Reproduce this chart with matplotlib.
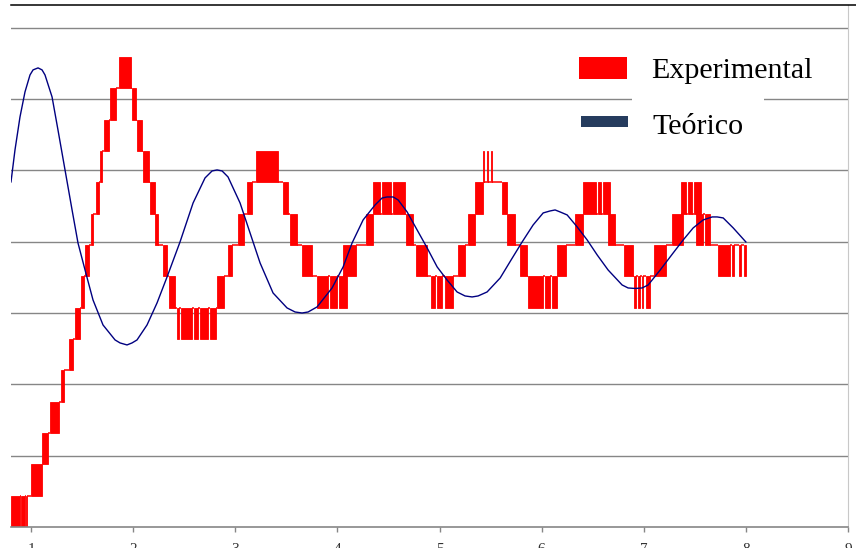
import matplotlib
matplotlib.use("Agg")
import matplotlib.pyplot as plt
from matplotlib.patches import Rectangle
from matplotlib.lines import Line2D

# teorico: curva amortecida (tempo, posicao em divisoes da grade)
theo_t = [0.804, 0.843, 0.892, 0.941, 0.990, 1.020, 1.069, 1.108, 1.137, 1.206,
          1.264, 1.333, 1.402, 1.460, 1.529, 1.607, 1.705, 1.823, 1.872, 1.940,
          1.989, 2.038, 2.136, 2.234, 2.332, 2.459, 2.587, 2.704, 2.773, 2.822,
          2.871, 2.929, 3.047, 3.145, 3.243, 3.370, 3.507, 3.586, 3.654, 3.713,
          3.801, 3.948, 4.056, 4.144, 4.252, 4.369, 4.438, 4.487, 4.546, 4.595,
          4.683, 4.781, 4.879, 4.977, 5.074, 5.172, 5.250, 5.319, 5.378, 5.466,
          5.594, 5.701, 5.809, 5.917, 6.015, 6.083, 6.132, 6.181, 6.250, 6.348,
          6.446, 6.544, 6.651, 6.788, 6.847, 6.916, 6.984, 7.043, 7.161, 7.288,
          7.386, 7.484, 7.582, 7.670, 7.719, 7.778, 7.876, 8.000]
theo_y = [4.839, 5.287, 5.750, 6.101, 6.339, 6.410, 6.438, 6.410, 6.339, 6.031,
          5.568, 5.007, 4.446, 3.983, 3.604, 3.184, 2.833, 2.623, 2.581, 2.553,
          2.581, 2.623, 2.833, 3.142, 3.506, 3.997, 4.544, 4.895, 4.993, 5.007,
          4.993, 4.909, 4.544, 4.123, 3.703, 3.282, 3.072, 3.015, 3.001, 3.015,
          3.086, 3.352, 3.647, 3.983, 4.306, 4.516, 4.614, 4.628, 4.628, 4.586,
          4.418, 4.165, 3.913, 3.647, 3.464, 3.296, 3.240, 3.226, 3.240, 3.296,
          3.492, 3.745, 3.997, 4.236, 4.404, 4.432, 4.446, 4.418, 4.376, 4.208,
          4.025, 3.815, 3.604, 3.394, 3.352, 3.345, 3.352, 3.394, 3.604, 3.843,
          4.025, 4.194, 4.306, 4.348, 4.348, 4.334, 4.194, 3.997]

# experimental: sinal quantizado, faixas onde oscila entre nivel e nivel+1
exp_t0 = [0.804, 0.902, 0.951, 1.000, 1.108, 1.186, 1.294, 1.372, 1.431, 1.490,
          1.529, 1.588, 1.637, 1.676, 1.715, 1.774, 1.862,
          1.989, 2.038, 2.097, 2.166, 2.214, 2.293, 2.352,
          2.430, 2.469, 2.596, 2.655, 2.753,
          2.822, 2.929, 3.027, 3.116, 3.204,
          3.468, 3.537, 3.654, 3.801, 3.928, 4.017, 4.056,
          4.281, 4.350, 4.438, 4.546,
          4.673, 4.771, 4.918, 4.977, 5.055,
          5.182, 5.280, 5.349, 5.427, 5.466, 5.505,
          5.613, 5.662, 5.789, 5.868, 6.034, 6.103,
          6.152, 6.328, 6.406, 6.553, 6.602,
          6.651, 6.808, 6.906, 6.945, 6.984, 7.023,
          7.102, 7.278, 7.366, 7.435, 7.493, 7.513, 7.601,
          7.729, 7.866, 7.934, 7.983]
exp_t1 = [0.892, 0.941, 0.961, 1.108, 1.167, 1.274, 1.323, 1.411, 1.480, 1.519,
          1.568, 1.607, 1.666, 1.695, 1.764, 1.833, 1.979,
          2.028, 2.087, 2.156, 2.214, 2.244, 2.332, 2.410,
          2.450, 2.577, 2.636, 2.734, 2.812,
          2.890, 2.969, 3.086, 3.165, 3.419,
          3.517, 3.605, 3.752, 3.909, 3.997, 4.095, 4.183,
          4.350, 4.418, 4.526, 4.663,
          4.741, 4.879, 4.957, 5.025, 5.133,
          5.250, 5.349, 5.427, 5.437, 5.476, 5.515,
          5.662, 5.740, 5.858, 6.015, 6.083, 6.152,
          6.240, 6.406, 6.534, 6.583, 6.671,
          6.720, 6.896, 6.925, 6.964, 6.994, 7.062,
          7.219, 7.386, 7.415, 7.474, 7.562, 7.582, 7.650,
          7.846, 7.885, 7.954, 8.003]
exp_level = [0, 0, 0, 1, 2, 3, 4, 5, 6, 7,
             8, 9, 10, 11, 12, 13, 14,
             13, 12, 11, 10, 9, 8, 7,
             6, 6, 6, 6, 6,
             7, 8, 9, 10, 11,
             10, 9, 8, 7, 7, 7, 8,
             9, 10, 10, 10,
             9, 8, 7, 7, 7,
             8, 9, 10, 11, 11, 11,
             10, 9, 8, 7, 7, 7,
             8, 9, 10, 10, 10,
             9, 8, 7, 7, 7, 7,
             8, 9, 10, 10, 10, 9, 9,
             8, 8, 8, 8]
STEP = 0.4394  # passo de quantizacao, em divisoes da grade

x_ticks = [1, 2, 3, 4, 5, 6, 7, 8, 9]

W, H = 856, 548
fig = plt.figure(figsize=(W / 100, H / 100), dpi=100)
ax = fig.add_axes([11 / W, 21 / H, 837 / W, 522 / H])

# faixas vermelhas (oscilacao entre dois niveis)
widths = [b - a for a, b in zip(exp_t0, exp_t1)]
bottoms = [k * STEP for k in exp_level]
ax.bar(exp_t0, STEP, width=widths, bottom=bottoms, align='edge',
       color='#ff0000', edgecolor='#ff0000', linewidth=0.6, zorder=2)

# trechos horizontais entre as faixas
shared = exp_level[0] + 1
for i in range(len(exp_level) - 1):
    a, b = exp_level[i], exp_level[i + 1]
    if a != b:
        shared = max(a, b)
    ax.hlines(shared * STEP, exp_t1[i], exp_t0[i + 1], color='#ff0000',
              linewidth=1.1, zorder=2)

ax.plot(theo_t, theo_y, color='#000080', linewidth=1.0, zorder=3)

ax.set_xlim(0.804, 9.0)
ax.set_ylim(0, 7.32)
ax.set_yticks(range(1, 8))
ax.set_yticklabels([])
ax.tick_params(axis='y', length=0)
ax.grid(axis='y', color='#868686', linewidth=1.0)
ax.set_axisbelow(True)

# etiquetas do eixo x ficam cortadas na borda, como no original
ax.set_xticks(x_ticks)
ax.set_xticklabels([str(v) for v in x_ticks], fontsize=11,
                   family='Liberation Serif', color='#333333')
ax.tick_params(axis='x', direction='out', length=3.5, width=1.0,
               color='#868686', pad=8)

ax.spines['left'].set_visible(False)
ax.spines['top'].set_visible(False)
ax.spines['bottom'].set_color('#868686')
ax.spines['bottom'].set_linewidth(1.2)
ax.spines['right'].set_color('#c8c8c8')
ax.spines['right'].set_linewidth(0.8)

# linha preta superior (borda do recorte)
fig.add_artist(Line2D([11 / W, 1.0], [(H - 5) / H, (H - 5) / H],
                      color='black', linewidth=1.1))

# legenda
fig.add_artist(Rectangle((632 / W, (H - 150) / H), 132 / W, 110 / H,
                         facecolor='white', edgecolor='none'))
fig.add_artist(Rectangle((579 / W, (H - 79) / H), 48 / W, 22 / H,
                         facecolor='#ff0000', edgecolor='none'))
fig.add_artist(Rectangle((581 / W, (H - 127) / H), 47 / W, 11 / H,
                         facecolor='#263c5e', edgecolor='none'))
fig.text(651 / W, (H - 78) / H, 'Experimental', fontsize=21.6,
         family='Liberation Serif', va='baseline')
fig.text(652 / W, (H - 134) / H, 'Teórico', fontsize=21.6,
         family='Liberation Serif', va='baseline')

fig.savefig('out.png', dpi=100)
